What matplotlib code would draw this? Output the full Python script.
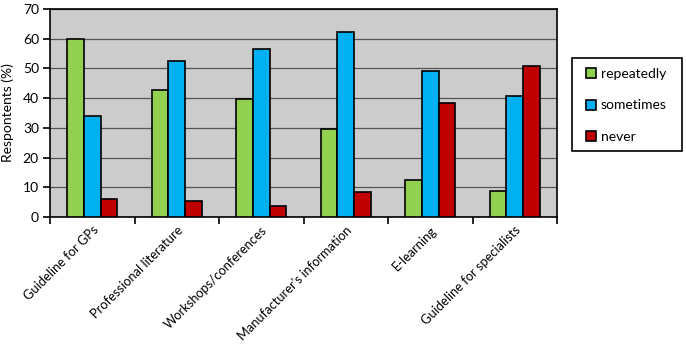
import matplotlib
matplotlib.use("Agg")
import matplotlib.pyplot as plt
from matplotlib.patches import Rectangle
import numpy as np

plt.rcParams['font.family'] = ['Lato', 'DejaVu Sans']

categories = ["Guideline for GPs", "Professional literature", "Workshops/conferences",
              "Manufacturer's information", "E-learning", "Guideline for specialists"]
repeatedly = [59.8, 42.8, 39.8, 29.6, 12.5, 8.8]
sometimes = [34.0, 52.4, 56.5, 62.3, 49.2, 40.6]
never = [6.2, 5.3, 3.7, 8.3, 38.5, 50.7]
series_names = ["repeatedly", "sometimes", "never"]
colors = ["#92D050", "#00B0F0", "#C00000"]
yticks = [0, 10, 20, 30, 40, 50, 60, 70]

fig = plt.figure(figsize=(6.86, 3.46), dpi=100)
ax = fig.add_axes([50/686, 1-217/346, (557-50)/686, (217-9)/346])
ax.set_facecolor("#CCCCCC")

x = np.arange(len(categories))
w = 0.198
for i, (vals, name, c) in enumerate(zip([repeatedly, sometimes, never], series_names, colors)):
    ax.bar(x + (i-1)*w, vals, width=w, color=c, edgecolor="black", linewidth=1.2,
           label=name, zorder=3)

ax.set_xlim(-0.5, len(categories)-0.5)
ax.set_ylim(0, 70)
ax.set_yticks(yticks)
ax.set_yticklabels([str(v) for v in yticks], fontsize=10)
ax.yaxis.grid(True, color="#555555", linewidth=0.9, zorder=0)
ax.set_axisbelow(True)

ax.set_xticks(np.arange(-0.5, len(categories)+0.5, 1.0))
ax.set_xticklabels([])
ax.set_xticks(x, minor=True)
ax.set_xticklabels(categories, minor=True, rotation=45, ha="right", va="top",
                   rotation_mode="anchor", fontsize=9.3)
ax.tick_params(axis="x", which="minor", length=0, pad=5)
ax.tick_params(axis="x", which="major", length=5, width=1.2, direction="out")
ax.tick_params(axis="y", length=5, width=1.2, direction="out", pad=3)

for s in ax.spines.values():
    s.set_color("black")
    s.set_linewidth(1.2)

ax.set_ylabel("Respontents (%)", fontsize=10, labelpad=6)

fig.patches.append(Rectangle((572/686, 1-151/346), 110/686, 93/346,
                             transform=fig.transFigure, facecolor="white",
                             edgecolor="black", linewidth=1.2, zorder=1))
leg = fig.legend(loc="upper left", bbox_to_anchor=(586/686, 1-68/346),
                 fontsize=10, frameon=False, handlelength=0.75, handleheight=0.75,
                 labelspacing=1.4, borderpad=0, handletextpad=0.3, borderaxespad=0)

fig.savefig("out.png", dpi=100)
